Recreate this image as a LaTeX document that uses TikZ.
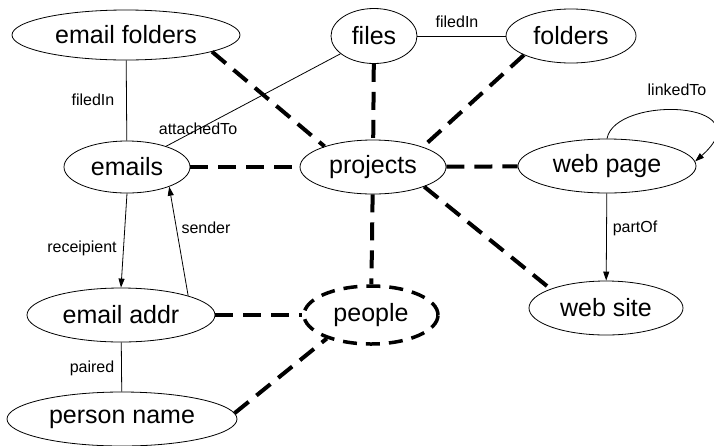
\documentclass[tikz,border=0pt]{standalone}
\usepackage{fontspec}
\setmainfont{Liberation Sans}
\usetikzlibrary{shapes.geometric,arrows.meta}
\begin{document}
\begin{tikzpicture}[x=1pt,y=-1pt,
  ent/.style={ellipse,draw,line width=0.8pt,inner sep=0pt,font=\fontsize{25}{30}\selectfont},
  grp/.style={ent,line width=3.5pt,dash pattern=on 14pt off 9pt},
  rel/.style={line width=0.8pt},
  arr/.style={rel,-{Triangle[length=9pt,width=6pt]}},
  lbl/.style={font=\fontsize{16}{19}\selectfont,inner sep=0pt},
  link/.style={line width=4pt,dash pattern=on 18pt off 10pt}]
\useasboundingbox (0,0) rectangle (714,445);

% entities
\node[ent,minimum width=228pt,minimum height=50pt] (ef) at (126,35) {email folders};
\node[ent,minimum width=86pt,minimum height=55pt] (fi) at (374,36) {files};
\node[ent,minimum width=130pt,minimum height=54pt] (fo) at (571,36) {folders};
\node[ent,minimum width=126pt,minimum height=52pt] (em) at (127,167) {emails};
\node[ent,minimum width=146pt,minimum height=54pt] (pr) at (373,167) {projects};
\node[ent,minimum width=178pt,minimum height=54pt] (wp) at (607,166) {web page};
\node[ent,minimum width=188pt,minimum height=54pt] (ea) at (121,315) {email addr};
\node[grp,minimum width=134pt,minimum height=58pt] (pe) at (371,315) {people};
\node[ent,minimum width=154pt,minimum height=54pt] (ws) at (606,308) {web site};
\node[ent,minimum width=230pt,minimum height=54pt] (pn) at (122,419) {person name};

% relations
\draw[rel] (ef) -- (em);
\draw[rel] (fi) -- (fo);
\draw[rel] (fi) -- (em);
\draw[arr] (em.south) -- (ea.north);
\draw[arr] (ea.16.6) -- (em.-25.5);
\draw[rel] (ea) -- (pn);
\draw[arr] (wp) -- (ws);
\draw[arr] (wp.north) .. controls (615,95) and (765,100) .. (wp.3);

% relation labels
\node[lbl] (l1) at (93,100) {filedIn};
\node[lbl] (l2) at (457,22) {filedIn};
\node[lbl] (l3) at (198,129) {attachedTo};
\node[lbl] (l4) at (82,248) {receipient};
\node[lbl] (l5) at (206,228) {sender};
\node[lbl] (l6) at (92,368) {paired};
\node[lbl] (l7) at (635,228) {partOf};
\node[lbl] (l8) at (677,90) {linkedTo};

% project links
\draw[link] (ef.-11) -- (pr.157);
\draw[link] (em) -- (pr);
\draw[link] (fi) -- (pr);
\draw[link] (fo.-158) -- (pr.22);
\draw[link] (pr) -- (wp);
\draw[link] (pr.-21) -- (ws.161);
\draw[link] (pr) -- (pe);
\draw[link] (ea) -- (pe);
\draw[link] (pn.3) -- (pe.-152);
\end{tikzpicture}
\end{document}
